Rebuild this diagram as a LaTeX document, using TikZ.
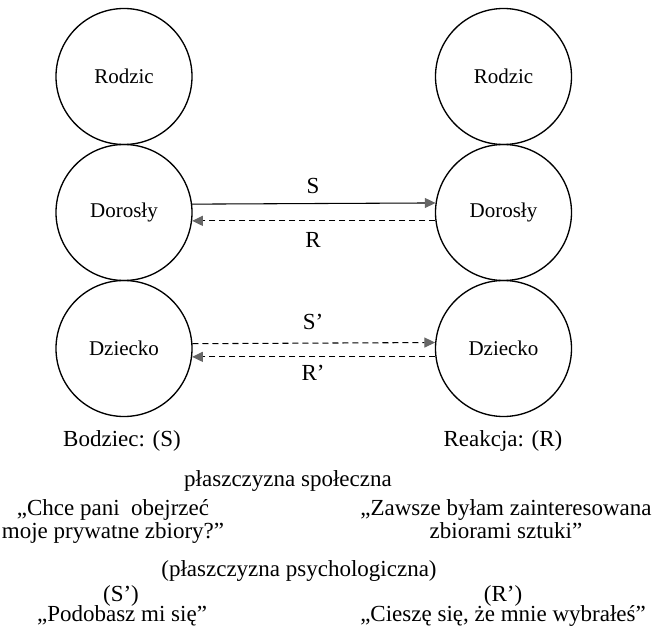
\documentclass[tikz,border=0pt]{standalone}
\usepackage{fontspec}
\setmainfont{Liberation Serif}
\usetikzlibrary{arrows.meta}
\tikzset{
  ego/.style={circle, draw=black, line width=1pt, minimum size=102pt, inner sep=0pt, font=\fontsize{15.75}{18}\selectfont},
  lbl/.style={font=\fontsize{17.25}{20}\selectfont, inner sep=0pt},
  txt/.style={font=\fontsize{17.25}{20}\selectfont, inner sep=0pt, anchor=base},
  conn/.style={line width=0.8pt, -{Triangle[length=8pt,width=7.5pt,color=black!60]}},
  dconn/.style={conn, dash pattern=on 4.5pt off 3pt}
}
\begin{document}
\begin{tikzpicture}[x=0.75pt,y=-0.75pt]
\useasboundingbox (0,0) rectangle (658,638);
% circles
\node[ego] (pl) at (124,76.5) {Rodzic};
\node[ego] (al) at (124,212.5) {Dorosły};
\node[ego] (cl) at (124,348.5) {Dziecko};
\node[ego] (pr) at (503.5,76.5) {Rodzic};
\node[ego] (ar) at (503.5,212.5) {Dorosły};
\node[ego] (cr) at (503.5,348.5) {Dziecko};
% connectors
\draw[conn] (al.7.5) -- (ar.172.5);
\draw[dconn] (ar.187) -- (al.-7);
\draw[dconn] (cl.4.6) -- (cr.175.4);
\draw[dconn] (cr.187.2) -- (cl.-7.2);
% connector labels
\node[lbl] (ls) at (313,186) {S};
\node[lbl] (lr) at (313,240) {R};
\node[lbl] (ls2) at (313,322) {S’};
\node[lbl] (lr2) at (313,373) {R’};
% lower texts
\node[txt] (bod) at (122,447) {Bodziec: (S)};
\node[txt] (rea) at (503,447) {Reakcja: (R)};
\node[txt] (spol) at (288,487) {płaszczyzna społeczna};
\node[txt] (q1a) at (113,516) {„Chce pani\ \ obejrzeć};
\node[txt] (q1b) at (113,538) {moje prywatne zbiory?”};
\node[txt] (q2a) at (506,516) {„Zawsze byłam zainteresowana};
\node[txt] (q2b) at (506,538) {zbiorami sztuki”};
\node[txt] (psy) at (299,576) {(płaszczyzna psychologiczna)};
\node[txt] (s2) at (121,601) {(S’)};
\node[txt] (r2) at (503,601) {(R’)};
\node[txt] (q3) at (122,621) {„Podobasz mi się”};
\node[txt] (q4) at (503,621) {„Cieszę się, że mnie wybrałeś”};
\end{tikzpicture}
\end{document}
